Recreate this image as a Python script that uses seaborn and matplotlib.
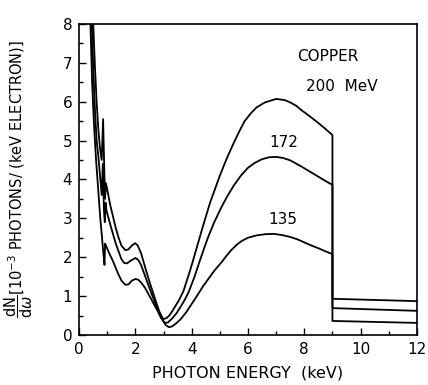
import numpy as np
import pandas as pd
import seaborn as sns
import matplotlib.pyplot as plt
from matplotlib.ticker import MultipleLocator

# photon energy (keV) and yield (1e-3 photons / keV electron)
energy_200 = [0.50, 0.56, 0.62, 0.68, 0.74, 0.80, 0.85, 0.89, 0.92, 0.95, 1.00, 1.10, 1.20, 1.30,
              1.40, 1.50, 1.64, 1.75, 1.87, 1.99, 2.08, 2.20, 2.30, 2.40, 2.55, 2.70, 2.85,
              2.98, 3.10, 3.20, 3.30, 3.40, 3.55, 3.70, 3.85, 4.00, 4.20, 4.40, 4.65, 4.85,
              5.00, 5.25, 5.50, 5.70, 5.88, 6.10, 6.30, 6.60, 7.00, 7.30, 7.50, 7.70, 7.90,
              8.20, 8.50, 8.75, 9.00, 9.00, 12.0]
yield_200 = [8.0, 6.9, 6.0, 5.3, 4.8, 4.5, 5.55, 4.3, 3.5, 3.9, 3.73, 3.35, 3.05, 2.75,
             2.5, 2.3, 2.18, 2.2, 2.3, 2.36, 2.3, 2.1, 1.85, 1.6, 1.25, 0.92, 0.6,
             0.41, 0.43, 0.5, 0.6, 0.72, 0.9, 1.12, 1.45, 1.8, 2.3, 2.8, 3.4, 3.8,
             4.1, 4.55, 4.95, 5.25, 5.5, 5.7, 5.85, 5.98, 6.07, 6.04, 5.98, 5.9, 5.78,
             5.62, 5.45, 5.3, 5.14, 0.93, 0.87]

energy_172 = [0.45, 0.50, 0.56, 0.62, 0.68, 0.74, 0.80, 0.84, 0.88, 0.91, 0.94, 0.97, 1.10,
              1.20, 1.30, 1.40, 1.50, 1.60, 1.70, 1.85, 2.00, 2.10, 2.20, 2.35, 2.50, 2.70,
              2.90, 3.04, 3.15, 3.30, 3.45, 3.60, 3.75, 3.90, 4.10, 4.26, 4.45, 4.60, 4.80,
              5.03, 5.25, 5.50, 5.75, 6.00, 6.25, 6.50, 6.75, 7.00, 7.25, 7.50, 7.90, 8.20,
              8.50, 8.75, 9.00, 9.00, 12.0]
yield_172 = [8.0, 6.8, 5.8, 5.0, 4.6, 4.1, 3.6, 4.4, 3.2, 2.9, 3.4, 3.2, 2.85,
             2.6, 2.35, 2.15, 1.95, 1.85, 1.84, 1.92, 1.98, 1.93, 1.8, 1.5, 1.2, 0.82,
             0.45, 0.31, 0.32, 0.42, 0.55, 0.72, 0.9, 1.12, 1.5, 1.85, 2.25, 2.55, 2.9,
             3.25, 3.55, 3.85, 4.1, 4.3, 4.43, 4.52, 4.57, 4.58, 4.55, 4.49, 4.33, 4.2,
             4.07, 3.96, 3.86, 0.69, 0.62]

energy_135 = [0.40, 0.46, 0.52, 0.60, 0.68, 0.75, 0.80, 0.86, 0.90, 0.92, 0.95, 1.10, 1.20,
              1.30, 1.40, 1.50, 1.64, 1.75, 1.88, 2.00, 2.10, 2.20, 2.35, 2.50, 2.65, 2.80,
              2.95, 3.08, 3.19, 3.30, 3.45, 3.60, 3.80, 4.00, 4.20, 4.40, 4.60, 4.80, 5.07,
              5.25, 5.40, 5.60, 5.78, 6.00, 6.30, 6.60, 6.90, 7.20, 7.50, 7.75, 8.00, 8.25,
              8.50, 8.75, 9.00, 9.00, 12.0]
yield_135 = [8.0, 6.5, 5.5, 4.5, 3.7, 3.0, 2.6, 2.1, 1.8, 2.35, 2.3, 2.05, 1.9,
             1.72, 1.55, 1.4, 1.29, 1.3, 1.4, 1.44, 1.42, 1.35, 1.2, 1.0, 0.8, 0.6,
             0.4, 0.25, 0.2, 0.22, 0.3, 0.4, 0.58, 0.8, 1.02, 1.25, 1.45, 1.65, 1.88,
             2.05, 2.18, 2.32, 2.42, 2.5, 2.56, 2.59, 2.6, 2.57, 2.52, 2.46, 2.38, 2.3,
             2.23, 2.15, 2.08, 0.36, 0.31]

curves = [(energy_200, yield_200), (energy_172, yield_172), (energy_135, yield_135)]

sns.set_style("ticks")
plt.rcParams['font.family'] = ['DejaVu Sans']
plt.rcParams.update({'text.color': 'black', 'axes.labelcolor': 'black',
                     'xtick.color': 'black', 'ytick.color': 'black',
                     'axes.edgecolor': 'black'})

fig = plt.figure(figsize=(4.28, 3.85), dpi=100)
ax = fig.add_axes([0.185, 0.130, 0.789, 0.808])

for x, y in curves:
    sns.lineplot(x=x, y=y, sort=False, estimator=None, color='black', linewidth=1.3, ax=ax)

ax.set_xlim(0, 12)
ax.set_ylim(0, 8)
ax.xaxis.set_major_locator(MultipleLocator(2))
ax.xaxis.set_minor_locator(MultipleLocator(1))
ax.yaxis.set_major_locator(MultipleLocator(1))
ax.yaxis.set_minor_locator(MultipleLocator(0.5))
ax.tick_params(which='both', direction='in', top=False, right=False, labelsize=11, width=1.0,
               color='black', labelcolor='black')
ax.tick_params(which='major', length=5, pad=5)
ax.tick_params(which='minor', length=3)
for s in ax.spines.values():
    s.set_linewidth(1.2)
    s.set_color('black')

ax.set_xlabel('PHOTON ENERGY  (keV)', fontsize=11.5, labelpad=6)
ax.set_ylabel(r'$\dfrac{\mathrm{dN}}{\mathrm{d}\omega}$[10$^{-3}$ PHOTONS/ (keV ELECTRON)]',
              fontsize=10.5, labelpad=0)
ax.yaxis.set_label_coords(-0.13, 0.5)

ax.text(8.85, 7.15, 'COPPER', ha='center', va='center', fontsize=11)
ax.text(9.35, 6.4, '200  MeV', ha='center', va='center', fontsize=11)
ax.text(7.26, 4.96, '172', ha='center', va='center', fontsize=11)
ax.text(7.22, 2.96, '135', ha='center', va='center', fontsize=11)

fig.savefig('out.png', dpi=100)
